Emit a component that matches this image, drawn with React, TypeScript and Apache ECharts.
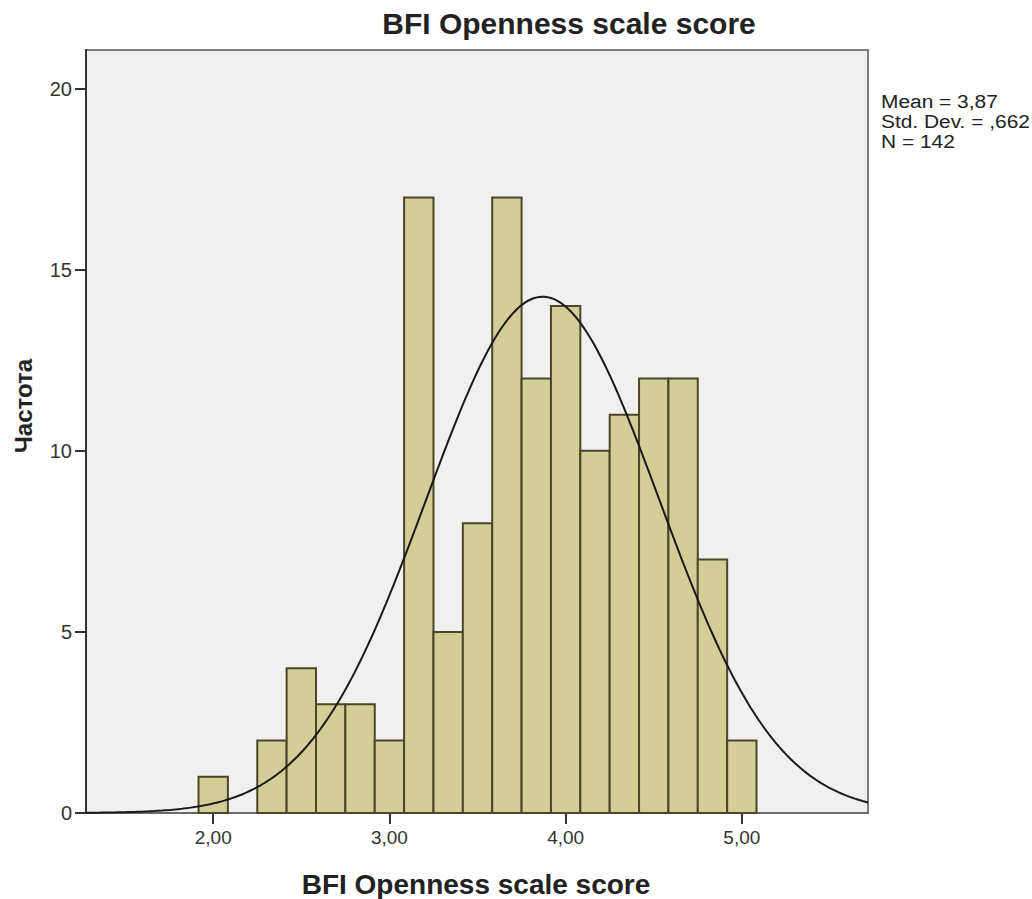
import React, { useEffect, useRef } from "react";
import * as echarts from "echarts";

const TITLE = "BFI Openness scale score";
const X_TITLE = "BFI Openness scale score";
const Y_TITLE = "Частота";
const STATS_TEXT = ["Mean = 3,87", "Std. Dev. = ,662", "N = 142"];

const BIN_LOWER = [
  1.9167, 2.0833, 2.25, 2.4167, 2.5833, 2.75, 2.9167, 3.0833, 3.25, 3.4167,
  3.5833, 3.75, 3.9167, 4.0833, 4.25, 4.4167, 4.5833, 4.75, 4.9167,
];
const BIN_UPPER = [
  2.0833, 2.25, 2.4167, 2.5833, 2.75, 2.9167, 3.0833, 3.25, 3.4167, 3.5833,
  3.75, 3.9167, 4.0833, 4.25, 4.4167, 4.5833, 4.75, 4.9167, 5.0833,
];
const COUNTS = [1, 0, 2, 4, 3, 3, 2, 17, 5, 8, 17, 12, 14, 10, 11, 12, 12, 7, 2];

const MEAN = 3.87;
const SD = 0.662;
const N = 142;

const X_TICKS = [2, 3, 4, 5];
const Y_TICKS = [0, 5, 10, 15, 20];
const X_MIN = 1.278;
const X_MAX = 5.716;
const Y_MAX = 21.07;

const FONT = "'Liberation Sans', Arial, sans-serif";

export default function App() {
  const ref = useRef<HTMLDivElement>(null);

  useEffect(() => {
    if (!ref.current) return;
    const chart = echarts.init(ref.current, null, { renderer: "svg" });

    const binWidth = BIN_UPPER[0] - BIN_LOWER[0];
    const barData = COUNTS.map((c, i) => [BIN_LOWER[i], BIN_UPPER[i], c]).filter(
      (d) => d[2] > 0
    );

    // fitted normal curve from the reported mean, std. dev. and N
    const curve: number[][] = [];
    const steps = 300;
    for (let i = 0; i <= steps; i++) {
      const x = X_MIN + ((X_MAX - X_MIN) * i) / steps;
      const z = (x - MEAN) / SD;
      const y = ((N * binWidth) / (SD * Math.sqrt(2 * Math.PI))) * Math.exp(-0.5 * z * z);
      curve.push([x, y]);
    }

    chart.setOption({
      animation: false,
      textStyle: { fontFamily: FONT },
      grid: {
        left: 86,
        right: 164,
        top: 50,
        bottom: 86,
        show: true,
        backgroundColor: "#F0F0F0",
        borderColor: "#7a7a7a",
        borderWidth: 2,
      },
      xAxis: {
        type: "value",
        min: X_MIN,
        max: X_MAX,
        axisLine: { show: true, lineStyle: { color: "#6a6a6a", width: 2 } },
        axisTick: {
          show: true,
          customValues: X_TICKS,
          length: 11,
          lineStyle: { color: "#333", width: 2 },
        },
        axisLabel: {
          customValues: X_TICKS,
          formatter: (v: number) => v.toFixed(2).replace(".", ","),
          fontSize: 19,
          color: "#333",
          margin: 15,
          fontFamily: FONT,
        },
        splitLine: { show: false },
      },
      yAxis: {
        type: "value",
        min: 0,
        max: Y_MAX,
        axisLine: { show: true, lineStyle: { color: "#333", width: 2 } },
        axisTick: {
          show: true,
          customValues: Y_TICKS,
          length: 11,
          lineStyle: { color: "#333", width: 2 },
        },
        axisLabel: {
          customValues: Y_TICKS,
          fontSize: 20,
          color: "#333",
          margin: 14,
          fontFamily: FONT,
        },
        splitLine: { show: false },
      },
      series: [
        {
          type: "custom",
          data: barData,
          encode: { x: [0, 1], y: 2 },
          z: 2,
          renderItem: (params: any, api: any) => {
            const lo = api.value(0);
            const hi = api.value(1);
            const c = api.value(2);
            const p0 = api.coord([lo, c]);
            const p1 = api.coord([hi, 0]);
            return {
              type: "rect",
              shape: { x: p0[0], y: p0[1], width: p1[0] - p0[0], height: p1[1] - p0[1] },
              style: { fill: "#D3CE98", stroke: "#4a4628", lineWidth: 2 },
            };
          },
        },
        {
          type: "line",
          data: curve,
          showSymbol: false,
          symbol: "none",
          z: 5,
          lineStyle: { color: "#1a1a1a", width: 2 },
        },
      ],
      graphic: [
        {
          type: "text",
          x: 569,
          y: 23,
          style: {
            text: TITLE,
            font: `bold 30px ${FONT}`,
            fill: "#222",
            textAlign: "center",
            textVerticalAlign: "middle",
          },
        },
        {
          type: "text",
          x: 476,
          y: 884,
          style: {
            text: X_TITLE,
            font: `bold 28px ${FONT}`,
            fill: "#222",
            textAlign: "center",
            textVerticalAlign: "middle",
          },
        },
        {
          type: "text",
          x: 23,
          y: 406,
          rotation: Math.PI / 2,
          style: {
            text: Y_TITLE,
            font: `bold 24px ${FONT}`,
            fill: "#222",
            textAlign: "center",
            textVerticalAlign: "middle",
          },
        },
        {
          type: "text",
          x: 881,
          y: 91,
          scaleX: 1.1,
          style: {
            text: STATS_TEXT.join("\n"),
            font: `19px ${FONT}`,
            lineHeight: 20,
            fill: "#222",
            textAlign: "left",
            textVerticalAlign: "top",
          },
        },
      ],
    });

    return () => chart.dispose();
  }, []);

  return (
    <div
      ref={ref}
      style={{ position: "fixed", left: 0, top: 0, width: 1032, height: 899, background: "#fff" }}
    />
  );
}
